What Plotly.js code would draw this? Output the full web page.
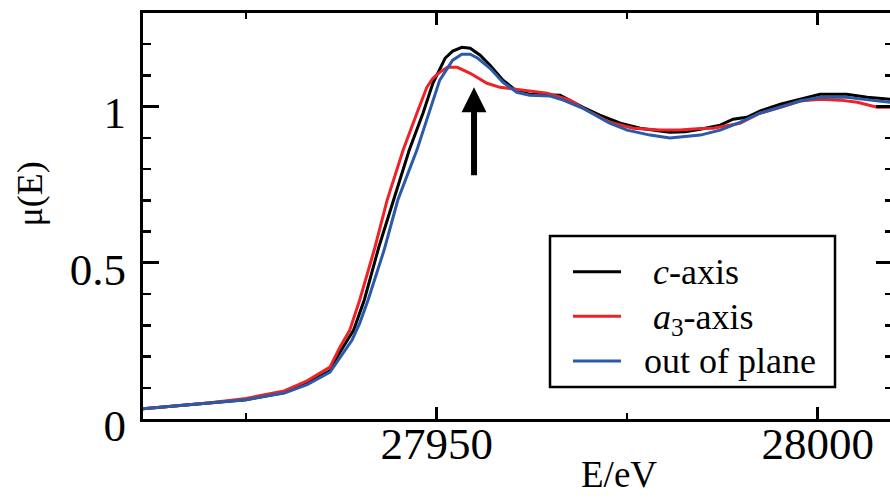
<!DOCTYPE html>
<html>
<head>
<meta charset="utf-8">
<script src="https://cdn.plot.ly/plotly-3.0.1.min.js"></script>
<style>
html, body { margin: 0; padding: 0; overflow: hidden; background: #fff; }
#chart { width: 894px; height: 498px; }
</style>
</head>
<body>
<div id="chart"></div>
<script>
// c-axis (black)
const energyC = [27911.0, 27915.0, 27920.0, 27925.0, 27930.0, 27933.0, 27936.0, 27937.3, 27939.1, 27940.5, 27942.4, 27944.3, 27946.4, 27948.2, 27949.5, 27951.1, 27952.1, 27953.3, 27954.4, 27955.7, 27957.0, 27958.7, 27960.5, 27962.2, 27966.2, 27969.2, 27971.4, 27974.1, 27976.7, 27979.3, 27980.6, 27982.6, 27984.6, 27987.2, 27988.9, 27990.7, 27992.4, 27995.1, 27997.7, 28000.3, 28003.8, 28006.5, 28009.5];
const muC = [0.032, 0.040, 0.050, 0.062, 0.085, 0.115, 0.154, 0.214, 0.285, 0.381, 0.550, 0.701, 0.861, 0.979, 1.075, 1.155, 1.178, 1.190, 1.187, 1.165, 1.133, 1.085, 1.050, 1.040, 1.037, 0.998, 0.973, 0.947, 0.931, 0.922, 0.918, 0.920, 0.928, 0.941, 0.960, 0.966, 0.986, 1.008, 1.024, 1.040, 1.040, 1.030, 1.024];

// a3-axis (red)
const energyA = [27911.0, 27915.0, 27920.0, 27925.0, 27930.0, 27933.0, 27936.0, 27937.3, 27938.6, 27939.9, 27941.9, 27943.5, 27945.6, 27947.4, 27948.7, 27949.5, 27950.4, 27951.4, 27952.7, 27954.4, 27956.6, 27958.3, 27961.3, 27964.5, 27967.5, 27969.2, 27972.7, 27975.8, 27979.3, 27981.9, 27984.6, 27986.3, 27989.8, 27992.4, 27995.1, 27997.7, 28000.3, 28002.9, 28005.2, 28007.8, 28009.5];
const muA = [0.032, 0.040, 0.051, 0.066, 0.090, 0.122, 0.166, 0.230, 0.285, 0.381, 0.550, 0.701, 0.861, 0.979, 1.062, 1.091, 1.110, 1.126, 1.126, 1.107, 1.075, 1.062, 1.053, 1.043, 1.021, 0.995, 0.950, 0.931, 0.925, 0.925, 0.930, 0.931, 0.947, 0.979, 0.998, 1.018, 1.024, 1.021, 1.014, 0.998, 0.998];

// out of plane (blue)
const energyOut = [27911.0, 27915.0, 27920.0, 27925.0, 27930.0, 27933.0, 27936.0, 27937.3, 27938.9, 27939.9, 27941.0, 27943.1, 27944.9, 27947.4, 27949.0, 27950.4, 27952.1, 27953.3, 27954.4, 27955.4, 27957.0, 27958.7, 27960.5, 27962.2, 27964.9, 27966.6, 27969.2, 27972.7, 27975.0, 27978.0, 27980.6, 27984.6, 27987.2, 27989.8, 27992.4, 27995.1, 27997.7, 28000.3, 28003.8, 28006.9, 28009.5];
const muOut = [0.032, 0.040, 0.050, 0.062, 0.083, 0.110, 0.150, 0.198, 0.253, 0.307, 0.381, 0.541, 0.701, 0.861, 0.979, 1.085, 1.149, 1.168, 1.168, 1.155, 1.123, 1.078, 1.046, 1.037, 1.034, 1.021, 0.995, 0.947, 0.925, 0.909, 0.900, 0.909, 0.925, 0.950, 0.979, 0.998, 1.018, 1.030, 1.030, 1.021, 1.014];

const seriesNames = [
  '<span style="font-size:36px">\u00a0\u00a0\u00a0<i>c</i>-axis</span>',
  '<span style="font-size:36px">\u00a0\u00a0\u00a0<i>a</i><sub>3</sub>-axis</span>',
  '<span style="font-size:36px">\u00a0\u00a0out of plane</span>'
];
const seriesColors = ['#000000', '#ed2327', '#2a5aa8'];

// axis ticks
const xTickVals = [27950, 28000];
const xMinorTickVals = [27925, 27975];

// arrow marking the white line feature
const arrowE = 27954.9;
const arrowTip = 1.062;
const arrowTail = 0.776;

const xRange = [27911.46, 28009.75];
const yRange = [0, 1.3];

const serif = 'Liberation Serif, Times New Roman, serif';

const traces = [
  {x: energyC, y: muC, name: seriesNames[0], line: {color: seriesColors[0], width: 3}},
  {x: energyA, y: muA, name: seriesNames[1], line: {color: seriesColors[1], width: 3}},
  {x: energyOut, y: muOut, name: seriesNames[2], line: {color: seriesColors[2], width: 3}}
].map(t => Object.assign({type: 'scatter', mode: 'lines', hoverinfo: 'skip'}, t));

const axisCommon = {
  showline: true, linewidth: 3, linecolor: '#000',
  mirror: 'ticks', ticks: 'inside', tickcolor: '#000', tickwidth: 3,
  showgrid: false, zeroline: false,
  tickfont: {family: serif, size: 45, color: '#000'}
};

const layout = {
  width: 894, height: 498,
  margin: {l: 143, r: 2, t: 13, b: 79},
  paper_bgcolor: '#fff', plot_bgcolor: '#fff',
  showlegend: true,
  legend: {
    x: 0.5674, xanchor: 'left', y: 0.43, yanchor: 'top',
    bgcolor: 'rgba(0,0,0,0)', borderwidth: 0,
    font: {family: serif, size: 32, color: '#000'},
    itemwidth: 48
  },
  xaxis: Object.assign({}, axisCommon, {
    range: xRange, tickmode: 'array', tickvals: xTickVals, ticktext: xTickVals.map(String),
    ticklen: 12, ticklabelstandoff: -17,
    minor: {tickmode: 'array', tickvals: xMinorTickVals, ticks: 'inside', ticklen: 6, tickwidth: 2.5, tickcolor: '#000'}
  }),
  yaxis: Object.assign({}, axisCommon, {
    range: yRange, dtick: 0.5, tick0: 0, ticklen: 16,
    ticklabelshift: 6, ticklabelstandoff: 5,
    minor: {dtick: 0.1, tick0: 0, ticks: 'inside', ticklen: 7.5, tickwidth: 2.5, tickcolor: '#000'}
  }),
  shapes: [
    {type: 'rect', xref: 'paper', yref: 'paper', x0: 0.5434, x1: 0.9239, y0: 0.0788, y1: 0.4507,
     line: {color: '#000', width: 2.5}, fillcolor: 'rgba(0,0,0,0)'}
  ],
  annotations: [
    {x: arrowE, y: arrowTip, ax: arrowE, ay: arrowTail, xref: 'x', yref: 'y', axref: 'x', ayref: 'y',
     showarrow: true, arrowhead: 2, arrowsize: 0.83, arrowwidth: 6, arrowcolor: '#000', text: ''},
    {text: 'E/eV', xref: 'paper', yref: 'paper', x: 0.635, y: -0.081, xanchor: 'center', yanchor: 'top',
     showarrow: false, font: {family: serif, size: 37, color: '#000'}},
    {text: 'μ(E)', xref: 'paper', yref: 'paper', x: -0.151, y: 0.555, xanchor: 'center', yanchor: 'middle',
     textangle: -90, showarrow: false, font: {family: serif, size: 36, color: '#000'}}
  ]
};

Plotly.newPlot('chart', traces, layout, {staticPlot: true, displayModeBar: false});
</script>
</body>
</html>
